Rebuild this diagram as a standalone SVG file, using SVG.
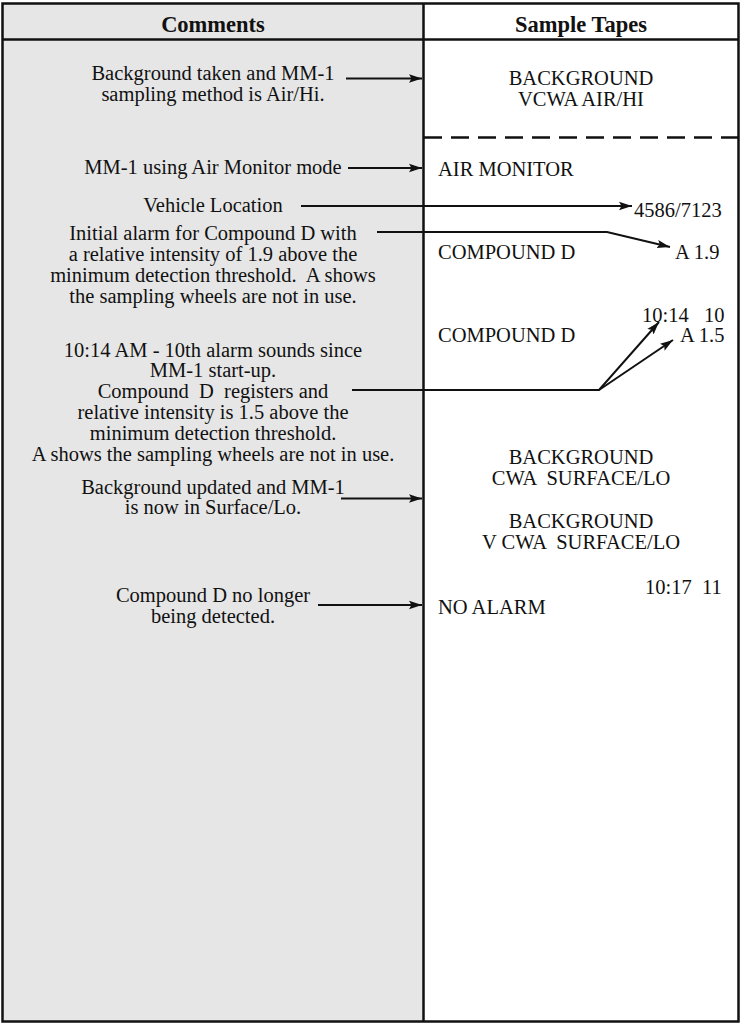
<svg xmlns="http://www.w3.org/2000/svg" width="743" height="1025" viewBox="0 0 743 1025">
<style>
.t{font-family:"Liberation Serif","Times New Roman",serif;font-size:20.5px;fill:#111}
.c{text-anchor:middle}
.h{font-family:"Liberation Serif","Times New Roman",serif;font-size:22.5px;font-weight:bold;text-anchor:middle;fill:#111}
.ln{stroke:#111;stroke-width:2;fill:none}
</style>
<defs>
<marker id="ah" markerUnits="userSpaceOnUse" markerWidth="14" markerHeight="10" refX="13" refY="5" orient="auto">
<path d="M0,0.8 L13,5 L0,9.2 L2.5,5 Z" fill="#111"/>
</marker>
</defs>
<g id="frame">
<rect x="2.5" y="3.5" width="421" height="1018" fill="#e6e6e6"/>
<rect x="423.5" y="3.5" width="315" height="1018" fill="#fff"/>
<rect x="2.5" y="3.5" width="736" height="1018" fill="none" stroke="#111" stroke-width="2.5"/>
<line x1="423.5" y1="3.5" x2="423.5" y2="1021.5" stroke="#111" stroke-width="2.5"/>
<line x1="2.5" y1="39.5" x2="738.5" y2="39.5" stroke="#111" stroke-width="2.5"/>
<line x1="424" y1="137.5" x2="738" y2="137.5" stroke="#111" stroke-width="2.5" stroke-dasharray="18,9"/>
</g>
<g id="header">
<text class="h" x="213" y="32">Comments</text>
<text class="h" x="581" y="32">Sample Tapes</text>
</g>
<g id="comment-background">
<text class="t c" x="213" y="80">Background taken and MM-1</text>
<text class="t c" x="213" y="101">sampling method is Air/Hi.</text>
</g>
<g id="tape-background1">
<text class="t c" x="581" y="85">BACKGROUND</text>
<text class="t c" x="581" y="106">VCWA AIR/HI</text>
</g>
<g id="comment-airmonitor">
<text class="t c" x="213" y="174">MM-1 using Air Monitor mode</text>
</g>
<g id="tape-airmonitor">
<text class="t" x="438" y="176">AIR MONITOR</text>
</g>
<g id="comment-vehicle">
<text class="t c" x="213" y="212">Vehicle Location</text>
</g>
<g id="tape-location">
<text class="t" x="634" y="217">4586/7123</text>
</g>
<g id="comment-initial">
<text class="t c" x="213" y="240">Initial alarm for Compound D with</text>
<text class="t c" x="213" y="261">a relative intensity of 1.9 above the</text>
<text class="t c" x="213" y="282" xml:space="preserve">minimum detection threshold.  A shows</text>
<text class="t c" x="213" y="303">the sampling wheels are not in use.</text>
</g>
<g id="tape-compound1">
<text class="t" x="438" y="259">COMPOUND D</text>
<text class="t" x="675" y="259">A 1.9</text>
</g>
<g id="tape-compound2">
<text class="t" x="642" y="322" xml:space="preserve">10:14   10</text>
<text class="t" x="438" y="342">COMPOUND D</text>
<text class="t" x="680" y="342">A 1.5</text>
</g>
<g id="comment-tenth">
<text class="t c" x="213" y="357">10:14 AM - 10th alarm sounds since</text>
<text class="t c" x="213" y="377">MM-1 start-up.</text>
<text class="t c" x="213" y="398" xml:space="preserve">Compound  D  registers and</text>
<text class="t c" x="213" y="419">relative intensity is 1.5 above the</text>
<text class="t c" x="213" y="440">minimum detection threshold.</text>
<text class="t c" x="213" y="461">A shows the sampling wheels are not in use.</text>
</g>
<g id="tape-background2">
<text class="t c" x="581" y="464">BACKGROUND</text>
<text class="t c" x="581" y="485" xml:space="preserve">CWA  SURFACE/LO</text>
</g>
<g id="comment-updated">
<text class="t c" x="213" y="494">Background updated and MM-1</text>
<text class="t c" x="213" y="514">is now in Surface/Lo.</text>
</g>
<g id="tape-background3">
<text class="t c" x="581" y="528">BACKGROUND</text>
<text class="t c" x="581" y="549" xml:space="preserve">V CWA  SURFACE/LO</text>
</g>
<g id="tape-noalarm">
<text class="t" x="645" y="594" xml:space="preserve">10:17  11</text>
<text class="t" x="438" y="614">NO ALARM</text>
</g>
<g id="comment-nolonger">
<text class="t c" x="213" y="602">Compound D no longer</text>
<text class="t c" x="213" y="623">being detected.</text>
</g>
<g id="connectors">
<line class="ln" x1="346" y1="78.5" x2="422" y2="78.5" marker-end="url(#ah)"/>
<line class="ln" x1="348" y1="168" x2="422" y2="168" marker-end="url(#ah)"/>
<line class="ln" x1="301" y1="206" x2="632" y2="206" marker-end="url(#ah)"/>
<polyline class="ln" points="377,232 607,232 670,247" marker-end="url(#ah)"/>
<polyline class="ln" points="352,390 599,390 659,322" marker-end="url(#ah)"/>
<line class="ln" x1="599" y1="390" x2="673" y2="340" marker-end="url(#ah)"/>
<line class="ln" x1="341" y1="498.5" x2="422" y2="498.5" marker-end="url(#ah)"/>
<line class="ln" x1="318" y1="605" x2="422" y2="605" marker-end="url(#ah)"/>
</g>
</svg>
